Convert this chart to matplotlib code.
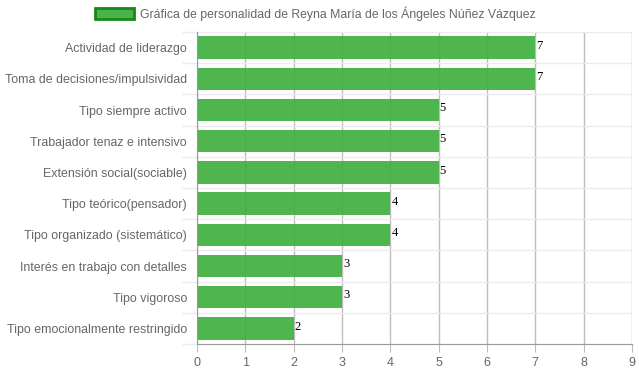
import matplotlib.pyplot as plt
import numpy as np

categorias = ["Actividad de liderazgo", "Toma de decisiones/impulsividad", "Tipo siempre activo",
              "Trabajador tenaz e intensivo", "Extensión social(sociable)", "Tipo teórico(pensador)",
              "Tipo organizado (sistemático)", "Interés en trabajo con detalles", "Tipo vigoroso",
              "Tipo emocionalmente restringido"]
valores = [7, 7, 5, 5, 5, 4, 4, 3, 3, 2]
titulo = "Gráfica de personalidad de Reyna María de los Ángeles Núñez Vázquez"

plt.rcParams['font.family'] = ['Liberation Sans', 'DejaVu Sans']

fig = plt.figure(figsize=(6.39, 3.72), dpi=100)
ax = fig.add_axes([197/639, 1 - 344/372, 435/639, 312/372])

pos = np.arange(len(categorias))
barras = ax.barh(pos, valores, height=0.72, color='#3cae3c', alpha=0.9, zorder=2,
                 label=titulo)

for p, v in zip(pos, valores):
    ax.text(v + 0.02, p - 0.06, str(v), family='Liberation Serif', fontsize=9,
            color='black', va='center', ha='left', zorder=4)

ax.set_xlim(0, 9)
ax.set_ylim(len(categorias) - 0.5, -0.5)
ax.set_xticks(range(10))
ax.set_yticks(pos)
ax.set_yticklabels(categorias)
ax.set_yticks(np.arange(-0.5, len(categorias)), minor=True)

ax.tick_params(axis='y', which='major', length=0, pad=7.2, labelsize=8.9, labelcolor='#666666')
ax.tick_params(axis='y', which='minor', length=11, color='#ebebeb', width=1)
ax.tick_params(axis='x', length=6, color='#bdbdbd', labelsize=9, labelcolor='#666666', pad=3)

ax.grid(axis='x', color='#bdbdbd', linewidth=1, zorder=1)
ax.grid(axis='y', which='minor', color='#ebebeb', linewidth=1, zorder=1)
ax.set_axisbelow(True)

for s in ['top', 'right']:
    ax.spines[s].set_visible(False)
ax.spines['left'].set_color('#999999')
ax.spines['bottom'].set_color('#999999')

leg = fig.legend(handles=[barras], labels=[titulo], loc='upper center',
                 bbox_to_anchor=(0.493, 1.012), frameon=False, fontsize=8.8,
                 handlelength=3.2, handleheight=1.0, handletextpad=0.45,
                 labelcolor='#666666')
for h in leg.legend_handles:
    h.set_edgecolor('#138a13')
    h.set_linewidth(2)
    h.set_alpha(1)
    h.set_facecolor('#4cb24c')

fig.savefig('out.png', dpi=100)
